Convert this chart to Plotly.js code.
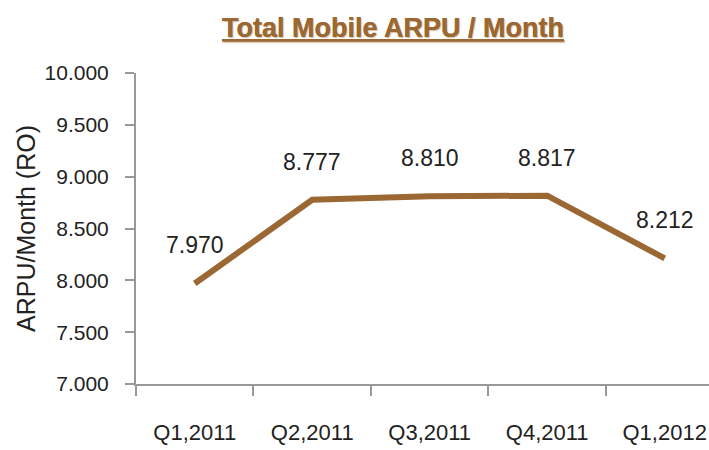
<!DOCTYPE html>
<html><head><meta charset="utf-8">
<script src="https://cdn.plot.ly/plotly-3.0.1.min.js"></script>
<style>html,body{margin:0;padding:0;background:#fff}#chart{width:709px;height:450px}</style>
</head><body><div id="chart"></div>
<script>
const categories = ["Q1,2011","Q2,2011","Q3,2011","Q4,2011","Q1,2012"];
const arpu = [7.970, 8.777, 8.810, 8.817, 8.212];
const yTicks = [7, 7.5, 8, 8.5, 9, 9.5, 10];

const FONT = "Liberation Sans, Arial, sans-serif";
const lineColor = "#9B6733";
const trace = {
  x: categories, y: arpu, type: "scatter", mode: "lines",
  line: {color: lineColor, width: 6}, hoverinfo: "none"
};
const annotations = categories.map((c, i) => ({
  x: c, y: arpu[i], xref: "x", yref: "y", text: arpu[i].toFixed(3),
  showarrow: false, yshift: 38,
  font: {family: FONT, size: 23, color: "#222"}
}));
annotations.push({
  xref: "paper", yref: "paper", x: 0.448, y: 1, yanchor: "bottom", yshift: 28,
  text: "<b><u>Total Mobile ARPU / Month</u></b>", showarrow: false,
  font: {family: FONT, size: 27, color: "#9B6733", shadow: "1px 1px 1px rgba(150,110,60,0.25)"}
});
const layout = {
  width: 709, height: 450,
  margin: {l: 136, r: 0, t: 73, b: 66},
  paper_bgcolor: "#fff", plot_bgcolor: "#fff",
  showlegend: false,
  xaxis: {
    type: "category", range: [-0.5, 4.377], tickson: "boundaries",
    ticks: "outside", ticklen: 10, tickcolor: "#999", tickwidth: 2,
    showline: true, linecolor: "#999", linewidth: 2, showgrid: false,
    tickfont: {family: FONT, size: 22, color: "#222"},
    ticklabelstandoff: 28, fixedrange: true
  },
  yaxis: {
    range: [7, 10], tickvals: yTicks, tickformat: ".3f",
    ticks: "outside", ticklen: 9, tickcolor: "#999", tickwidth: 2,
    showline: true, linecolor: "#999", linewidth: 2, showgrid: false, zeroline: false,
    tickfont: {family: FONT, size: 21, color: "#222"},
    ticklabelstandoff: 12,
    title: {text: "ARPU/Month (RO)", standoff: 2, font: {family: FONT, size: 25, color: "#222"}},
    fixedrange: true
  },
  annotations: annotations
};
Plotly.newPlot("chart", [trace], layout, {displayModeBar: false, staticPlot: true});
</script></body></html>
